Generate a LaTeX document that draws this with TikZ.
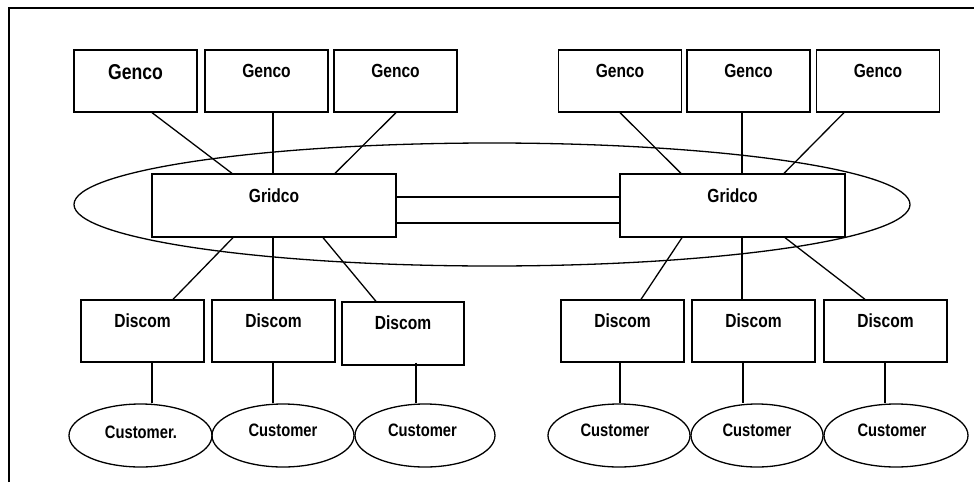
\documentclass[tikz,border=0pt]{standalone}
\usepackage{fontspec}
\newfontfamily\lbl[FakeStretch=0.82]{Liberation Sans Bold}
\usetikzlibrary{shapes.geometric}
\begin{document}
\begin{tikzpicture}[x=1pt,y=-1pt,line width=1.3pt,
  box/.style={draw,rectangle,inner sep=0pt,minimum width=123pt,minimum height=62pt},
  gbox/.style={draw,rectangle,inner sep=0pt,minimum height=63pt},
  cust/.style={draw,ellipse,inner sep=0pt,minimum height=63pt},
  txt/.style={anchor=base,inner sep=0pt,font=\lbl\fontsize{19}{19}\selectfont},
  ctxt/.style={anchor=base,inner sep=0pt,font=\lbl\fontsize{18}{18}\selectfont},
  link/.style={draw,line width=1.3pt}]
\useasboundingbox (0,0) rectangle (974,482);
% frame
\coordinate (fbl) at (9,482);
\coordinate (ftl) at (9,8);
\coordinate (ftr) at (974,8);
\draw[line width=1.5pt] (fbl) -- (ftl) -- (ftr);
% big ellipse
\node[draw,ellipse,inner sep=0pt,minimum width=836pt,minimum height=123pt] (ring) at (492,204.5) {};
% Gencos
\node[box] (g1) at (135.5,81) {};
\node[box] (g2) at (266.5,81) {};
\node[box] (g3) at (395.5,81) {};
\node[box] (g4) at (620,81) {};
\node[box] (g5) at (748.5,81) {};
\node[box] (g6) at (878,81) {};
\node[anchor=base,inner sep=0pt,font=\lbl\fontsize{21.5}{21.5}\selectfont] (tg1) at (135.5,79) {Genco};
\node[txt] (tg2) at (266.5,77) {Genco};
\node[txt] (tg3) at (395.5,77) {Genco};
\node[txt] (tg4) at (620,77) {Genco};
\node[txt] (tg5) at (748.5,77) {Genco};
\node[txt] (tg6) at (878,77) {Genco};
% Gridcos
\node[gbox,minimum width=244pt,fill=white] (gl) at (274,205.5) {};
\node[gbox,minimum width=225pt,fill=white] (gr) at (732.5,205.5) {};
\node[txt] (tgl) at (274,202) {Gridco};
\node[txt] (tgr) at (732.5,202) {Gridco};
% Discoms
\node[box] (d1) at (142.5,331) {};
\node[box] (d2) at (273.5,331) {};
\node[box,minimum width=122pt,minimum height=63pt] (d3) at (403,333.5) {};
\node[box] (d4) at (622.5,331) {};
\node[box] (d5) at (753.5,331) {};
\node[box] (d6) at (885.5,331) {};
\node[txt] (td1) at (142.5,327) {Discom};
\node[txt] (td2) at (273.5,327) {Discom};
\node[txt] (td3) at (403,329) {Discom};
\node[txt] (td4) at (622.5,327) {Discom};
\node[txt] (td5) at (753.5,327) {Discom};
\node[txt] (td6) at (885.5,327) {Discom};
% Customers
\node[cust,minimum width=143pt] (c1) at (140.5,435.5) {};
\node[cust,minimum width=142pt] (c2) at (283,435.5) {};
\node[cust,minimum width=140pt] (c3) at (425,435.5) {};
\node[cust,minimum width=142pt] (c4) at (619,435.5) {};
\node[cust,minimum width=132pt] (c5) at (757,435.5) {};
\node[cust,minimum width=144pt] (c6) at (896,435.5) {};
\node[ctxt] (tc1) at (141,438) {Customer.};
\node[ctxt] (tc2) at (283,436) {Customer};
\node[ctxt] (tc3) at (422.5,436) {Customer};
\node[ctxt] (tc4) at (615,436) {Customer};
\node[ctxt] (tc5) at (757,436) {Customer};
\node[ctxt] (tc6) at (892,436) {Customer};
% Genco -> Gridco
\draw[link] ([xshift=16.5pt]g1.south) -- ([xshift=-42pt]gl.north);
\draw[link] ([xshift=6.5pt]g2.south) -- ([xshift=-1pt]gl.north);
\draw[link] ([xshift=0.5pt]g3.south) -- ([xshift=61pt]gl.north);
\draw[link] (g4.south) -- ([xshift=-51.5pt]gr.north);
\draw[link] ([xshift=-6.5pt]g5.south) -- ([xshift=9.5pt]gr.north);
\draw[link] ([xshift=-34pt]g6.south) -- ([xshift=51.5pt]gr.north);
% Gridco <-> Gridco
\draw[link] ([yshift=8.5pt]gl.east) -- ([yshift=8.5pt]gr.west);
\draw[link] ([yshift=-17.5pt]gl.east) -- ([yshift=-17.5pt]gr.west);
% Gridco -> Discom
\draw[link] ([xshift=-41pt]gl.south) -- ([xshift=30.5pt]d1.north);
\draw[link] ([xshift=-1pt]gl.south) -- ([xshift=-0.5pt]d2.north);
\draw[link] ([xshift=49pt]gl.south) -- ([xshift=-27pt]d3.north);
\draw[link] ([xshift=-50.5pt]gr.south) -- ([xshift=18.5pt]d4.north);
\draw[link] ([xshift=9.5pt]gr.south) -- ([xshift=-11.5pt]d5.north);
\draw[link] ([xshift=52.5pt]gr.south) -- ([xshift=-20.5pt]d6.north);
% Discom -> Customer
\draw[link] ([xshift=9.5pt]d1.south) -- ([xshift=9.5pt]d1.south |- c1.north);
\draw[link] ([xshift=-0.5pt]d2.south) -- ([xshift=-0.5pt]d2.south |- c2.north);
\draw[link] ([xshift=13pt,yshift=3pt]d3.south) -- ([xshift=13pt]d3.south |- c3.north);
\draw[link] ([xshift=-2.5pt]d4.south) -- ([xshift=-2.5pt]d4.south |- c4.north);
\draw[link] ([xshift=-10.5pt]d5.south) -- ([xshift=-10.5pt]d5.south |- c5.north);
\draw[link] ([xshift=-0.5pt]d6.south) -- ([xshift=-0.5pt]d6.south |- c6.north);
\end{tikzpicture}
\end{document}
